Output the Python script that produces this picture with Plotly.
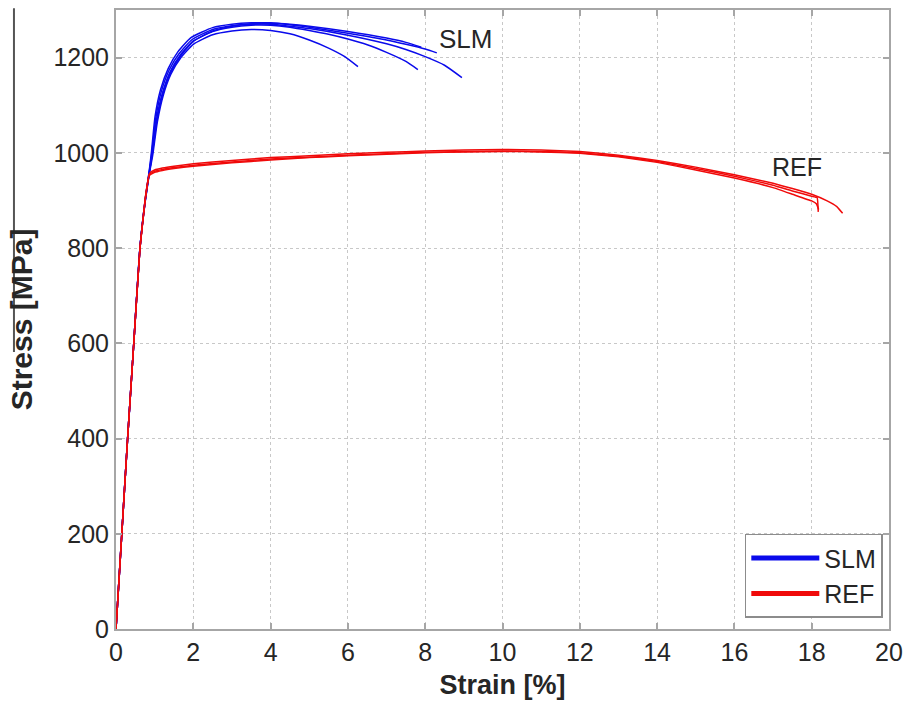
import plotly.graph_objects as go

# ---------------- data ----------------
# SLM specimens: strain [%], stress [MPa]
slm1_strain = [0, 0.15, 0.30, 0.46, 0.62, 0.76, 0.86, 0.95, 1.07, 1.22, 1.42, 1.68, 2.0, 2.5, 3.0, 3.5, 4.0, 4.5, 5.0, 5.5, 5.92, 6.26]
slm1_stress = [0, 200, 400, 600, 800, 900, 955, 995, 1065, 1120, 1165, 1200, 1228, 1248, 1256, 1259, 1257, 1250, 1237, 1220, 1202, 1181]

slm2_strain = [0, 0.15, 0.30, 0.46, 0.62, 0.76, 0.86, 0.94, 1.05, 1.20, 1.40, 1.66, 2.0, 2.5, 3.0, 3.5, 4.0, 4.5, 5.0, 5.5, 6.0, 6.5, 7.0, 7.5, 7.81]
slm2_stress = [0, 200, 400, 600, 800, 902, 958, 1000, 1070, 1125, 1170, 1205, 1235, 1255, 1264, 1268, 1268, 1264, 1257, 1249, 1239, 1227, 1211, 1192, 1175]

slm3_strain = [0, 0.15, 0.30, 0.46, 0.62, 0.76, 0.86, 0.93, 1.03, 1.17, 1.37, 1.63, 1.97, 2.5, 3.0, 3.5, 4.0, 4.5, 5.0, 6.0, 7.0, 7.5, 8.0, 8.5, 8.95]
slm3_stress = [0, 200, 400, 600, 800, 904, 960, 1002, 1073, 1128, 1173, 1208, 1238, 1259, 1267, 1270, 1270, 1266, 1261, 1247, 1229, 1217, 1202, 1184, 1158]

slm4_strain = [0, 0.15, 0.30, 0.46, 0.62, 0.76, 0.86, 0.92, 1.01, 1.15, 1.35, 1.60, 1.94, 2.5, 3.0, 3.5, 4.0, 4.5, 5.0, 6.0, 7.0, 7.5, 8.0, 8.3]
slm4_stress = [0, 200, 400, 600, 800, 905, 962, 1004, 1076, 1132, 1177, 1212, 1242, 1263, 1270, 1273, 1273, 1269, 1264, 1251, 1237, 1228, 1218, 1210]

slm5_strain = [0, 0.15, 0.30, 0.46, 0.62, 0.76, 0.86, 0.94, 1.06, 1.21, 1.41, 1.67, 2.0, 2.5, 3.0, 3.5, 4.0, 4.5, 5.0, 6.0, 7.0, 7.5, 7.9]
slm5_stress = [0, 200, 400, 600, 800, 901, 957, 999, 1068, 1123, 1168, 1203, 1234, 1256, 1266, 1271, 1272, 1270, 1266, 1255, 1241, 1232, 1222]

# REF specimens
ref1_strain = [0, 0.15, 0.30, 0.46, 0.62, 0.76, 0.86, 1.0, 1.2, 1.5, 2, 3, 4, 5, 6, 7, 8, 9, 10, 11, 12, 13, 14, 15, 16, 17, 17.5, 18.0, 18.14, 18.17]
ref1_stress = [0, 200, 400, 600, 800, 905, 954, 961, 965, 969, 974, 981, 987, 991, 995, 998, 1001, 1003, 1004, 1003, 1000, 993, 982, 967, 951, 932, 920, 909, 906, 876]

ref2_strain = [0, 0.15, 0.30, 0.46, 0.62, 0.76, 0.87, 1.0, 1.2, 1.5, 2, 3, 4, 5, 6, 7, 8, 9, 10, 11, 12, 13, 14, 15, 16, 17, 17.5, 18.0, 18.4, 18.65, 18.8]
ref2_stress = [0, 200, 400, 600, 800, 907, 957, 964, 968, 972, 977, 984, 990, 994, 998, 1001, 1004, 1006, 1007, 1006, 1003, 995, 984, 970, 954, 936, 925, 913, 899, 887, 873]

ref3_strain = [0, 0.15, 0.30, 0.46, 0.62, 0.76, 0.86, 1.0, 1.2, 1.5, 2, 3, 4, 5, 6, 7, 8, 9, 10, 11, 12, 13, 14, 15, 16, 17, 17.5, 18.0, 18.12, 18.18]
ref3_stress = [0, 200, 400, 600, 800, 903, 952, 959, 963, 967, 972, 979, 985, 990, 994, 997, 1000, 1002, 1003, 1002, 999, 992, 980, 964, 947, 927, 913, 899, 893, 881]

x_ticks = [0, 2, 4, 6, 8, 10, 12, 14, 16, 18, 20]
y_ticks = [0, 200, 400, 600, 800, 1000, 1200]

slm_curves = [(slm1_strain, slm1_stress), (slm2_strain, slm2_stress), (slm3_strain, slm3_stress),
              (slm4_strain, slm4_stress), (slm5_strain, slm5_stress)]
ref_curves = [(ref1_strain, ref1_stress), (ref2_strain, ref2_stress), (ref3_strain, ref3_stress)]

BLUE = "rgb(10,10,235)"
RED = "rgb(240,10,10)"

fig = go.Figure()
for xs, ys in slm_curves:
    fig.add_trace(go.Scatter(x=xs, y=ys, mode="lines", name="SLM", legendgroup="SLM",
                             showlegend=False, line=dict(color=BLUE, width=1.5, shape="spline", smoothing=0.5)))
for xs, ys in ref_curves:
    fig.add_trace(go.Scatter(x=xs, y=ys, mode="lines", name="REF", legendgroup="REF",
                             showlegend=False, line=dict(color=RED, width=1.5, shape="spline", smoothing=0.3)))
# legend entries
fig.add_trace(go.Scatter(x=[None], y=[None], mode="lines", name="SLM", line=dict(color=BLUE, width=5)))
fig.add_trace(go.Scatter(x=[None], y=[None], mode="lines", name="REF", line=dict(color=RED, width=5)))

FONT = "Liberation Sans, Arial, sans-serif"
TXT = "#262626"
axis_common = dict(
    showline=True, linecolor="#a6a6a6", linewidth=2, mirror="ticks",
    ticks="inside", ticklen=6, tickcolor="#a6a6a6", tickwidth=1.5,
    showgrid=True, gridcolor="#c8c8c8", griddash="dot", gridwidth=1,
    zeroline=False, tickfont=dict(family=FONT, size=25, color=TXT), automargin=False,
)

fig.update_layout(
    width=905, height=704,
    margin=dict(l=116, r=16, t=10, b=75),
    paper_bgcolor="white", plot_bgcolor="white",
    font=dict(family=FONT, color=TXT),
    xaxis=dict(range=[0, 20], tickvals=x_ticks,
               title=dict(text="<b>Strain [%]</b>", font=dict(family=FONT, size=27, color=TXT), standoff=10),
               **axis_common),
    yaxis=dict(range=[0, 1300], tickvals=y_ticks,
               title=dict(text="<b>Stress [MPa]</b>", font=dict(family=FONT, size=30, color=TXT), standoff=12),
               **axis_common),
    legend=dict(x=0.992, xanchor="right", y=0.018, yanchor="bottom", itemwidth=68,
                bordercolor="#8c8c8c", borderwidth=1.5, bgcolor="white",
                font=dict(family=FONT, size=25, color=TXT), tracegroupgap=0),
    annotations=[
        dict(x=9.03, y=1239, text="SLM", showarrow=False, font=dict(family=FONT, size=26, color=TXT)),
        dict(x=17.62, y=970, text="REF", showarrow=False, font=dict(family=FONT, size=25, color=TXT)),
    ],
    shapes=[dict(type="line", xref="paper", yref="paper", x0=-0.132, x1=-0.132, y0=1.003, y1=0.4475,
                 line=dict(color="#555555", width=2))],
)

fig.write_html("out.html")
